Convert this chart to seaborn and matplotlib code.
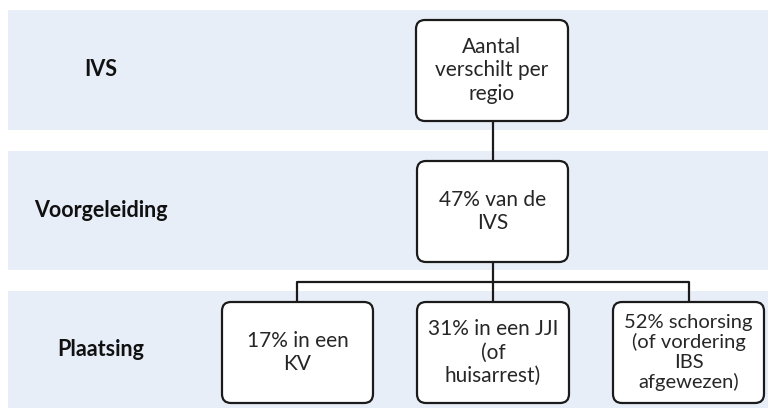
import matplotlib
matplotlib.use("Agg")
import matplotlib.pyplot as plt
from matplotlib.patches import FancyBboxPatch, Rectangle
import seaborn as sns

# stappen (banden links) en de tekst in de vakken
stappen = ["IVS", "Voorgeleiding", "Plaatsing"]
vak_ivs = "Aantal\nverschilt per\nregio"
vak_voorgeleiding = "47% van de\nIVS"
vakken_plaatsing = ["17% in een\nKV", "31% in een JJI\n(of\nhuisarrest)",
                    "52% schorsing\n(of vordering\nIBS\nafgewezen)"]

sns.set_theme(style="white")
plt.rcParams["font.family"] = ["Lato", "DejaVu Sans"]

fig = plt.figure(figsize=(7.68, 4.08), dpi=100)
ax = fig.add_axes([0, 0, 1, 1])
ax.set_xlim(0, 768)
ax.set_ylim(408, 0)
ax.axis("off")

band_kleur = "#E8EEF8"
lijn = "#1b1b1b"
tekst = "#262626"

# banden (y-boven, y-onder)
banden = [(10, 130), (151, 270), (291, 408)]
for (y0, y1), naam in zip(banden, stappen):
    ax.add_patch(Rectangle((8, y0), 760, y1 - y0, color=band_kleur, lw=0, zorder=0))
    ax.text(101, (y0 + y1) / 2, naam, ha="center", va="center",
            fontsize=15.5, fontweight="bold", color="#111111")


def vak(x0, y0, x1, y1, txt, fs=15, ls=1.2):
    ax.add_patch(FancyBboxPatch((x0, y0), x1 - x0, y1 - y0,
                                boxstyle="round,pad=0,rounding_size=9",
                                fc="white", ec=lijn, lw=1.6, zorder=3))
    ax.text((x0 + x1) / 2, (y0 + y1) / 2, txt, ha="center", va="center",
            fontsize=fs, color=tekst, linespacing=ls, zorder=4)


# verbindingslijnen
ax.plot([493, 493], [121, 161], color=lijn, lw=1.6, zorder=2)
ax.plot([493, 493], [262, 302], color=lijn, lw=1.6, zorder=2)
ax.plot([297, 297, 689, 689], [302, 282, 282, 302], color=lijn, lw=1.6, zorder=2)

vak(416, 20, 568, 121, vak_ivs)
vak(417, 161, 568, 262, vak_voorgeleiding)

plaats_x = [(222, 373), (417, 569), (613, 764)]
for (x0, x1), txt in zip(plaats_x, vakken_plaatsing):
    n = txt.count("\n")
    vak(x0, 302, x1, 403, txt, fs=15 if n < 3 else 14.5, ls=1.2 if n < 3 else 1.15)

fig.savefig("out.png", dpi=100)
